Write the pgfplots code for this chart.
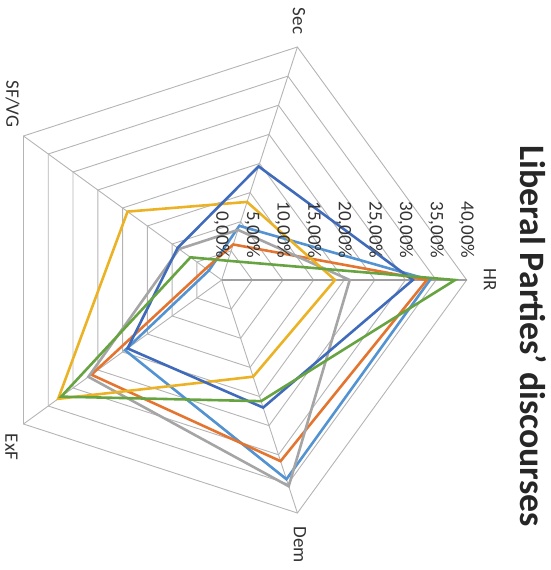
\documentclass[border=0pt]{standalone}
\usepackage{fontspec}
\setmainfont{Carlito}
\usepackage{pgfplots}
\pgfplotsset{compat=1.18}
\usepgfplotslibrary{polar}

% series colours
\definecolor{serA}{HTML}{5393D2}
\definecolor{serB}{HTML}{E47530}
\definecolor{serC}{HTML}{A5A5A5}
\definecolor{serD}{HTML}{EBB226}
\definecolor{serE}{HTML}{3F6BBA}
\definecolor{serF}{HTML}{67A441}
\definecolor{gridc}{HTML}{B4B4B4}

\pgfplotsset{
  ring/.style={gridc, line width=0.9bp, forget plot, data cs=polar},
  ser/.style={#1, line width=2.6bp, data cs=polar, line join=miter},
}
\tikzset{
  vlab/.style={rotate=-90, anchor=east, inner sep=0pt,
    font=\fontsize{19bp}{22bp}\selectfont, text=black!80},
}

\begin{document}
\begin{tikzpicture}
\useasboundingbox (-221.7bp,-290bp) rectangle (329.3bp,280bp);
% spokes: HR = 0, Dem = 288, ExF = 216, SF/VG = 144, Sec = 72 (degrees)
\begin{axis}[
  at={(0,0)}, anchor=origin,
  x=6.125bp, y=6.125bp,
  xmin=-40, xmax=40, ymin=-40, ymax=40,
  hide axis, clip=false,
]
% pentagonal rings every 5 %
\pgfplotsinvokeforeach{5,10,15,20,25,30,35,40}{
  \addplot[ring] coordinates {(0,#1) (72,#1) (144,#1) (216,#1) (288,#1)} -- cycle;
}
% spokes
\pgfplotsinvokeforeach{72,144,216,288}{
  \addplot[ring] coordinates {(#1,0) (#1,40)};
}
\addplot[ring, gray!75, line width=1.5bp] coordinates {(0,0) (0,40)};

% series values: HR, Dem, ExF, SF/VG, Sec
\addplot[ser=serA] coordinates {(0,34.0) (288,34.2) (216,19.5) (144,2.6) (72,9.3)} -- cycle;
\addplot[ser=serB] coordinates {(0,33.5) (288,31.1) (216,26.3) (144,3.2) (72,6.1)} -- cycle;
\addplot[ser=serC] coordinates {(0,20.9) (288,35.4) (216,26.9) (144,8.6) (72,8.6)} -- cycle;
\addplot[ser=serD] coordinates {(0,18.5) (288,16.6) (216,33.0) (144,19.0) (72,13.4)} -- cycle;
\addplot[ser=serE] coordinates {(0,31.2) (288,21.9) (216,19.0) (144,8.9) (72,19.5)} -- cycle;
\addplot[ser=serF] coordinates {(0,38.1) (288,20.8) (216,32.4) (144,6.3) (72,3.3)} -- cycle;

% value labels along the HR spoke
\node[vlab] at (axis cs:0,3.5) {0,00\%};
\node[vlab] at (axis cs:5,3.5) {5,00\%};
\node[vlab] at (axis cs:10,3.5) {10,00\%};
\node[vlab] at (axis cs:15,3.5) {15,00\%};
\node[vlab] at (axis cs:20,3.5) {20,00\%};
\node[vlab] at (axis cs:25,3.5) {25,00\%};
\node[vlab] at (axis cs:30,3.5) {30,00\%};
\node[vlab] at (axis cs:35,3.5) {35,00\%};
\node[vlab] at (axis cs:40,3.5) {40,00\%};
\end{axis}

% category labels
\begin{scope}[every node/.style={rotate=-90, font=\fontsize{19bp}{22bp}\selectfont, text=black!80}]
\node at (268.3bp,0bp) {HR};
\node at (77.3bp,259bp) {Sec};
\node at (78.3bp,-265bp) {Dem};
\node at (-209.2bp,176bp) {SF/VG};
\node at (-210.2bp,-167bp) {ExF};
\end{scope}

% title
\node[rotate=-90, font=\fontsize{35.8bp}{42bp}\selectfont\bfseries, text=black!85]
  at (311.5bp,-56bp) {Liberal Parties' discourses};
\end{tikzpicture}
\end{document}
